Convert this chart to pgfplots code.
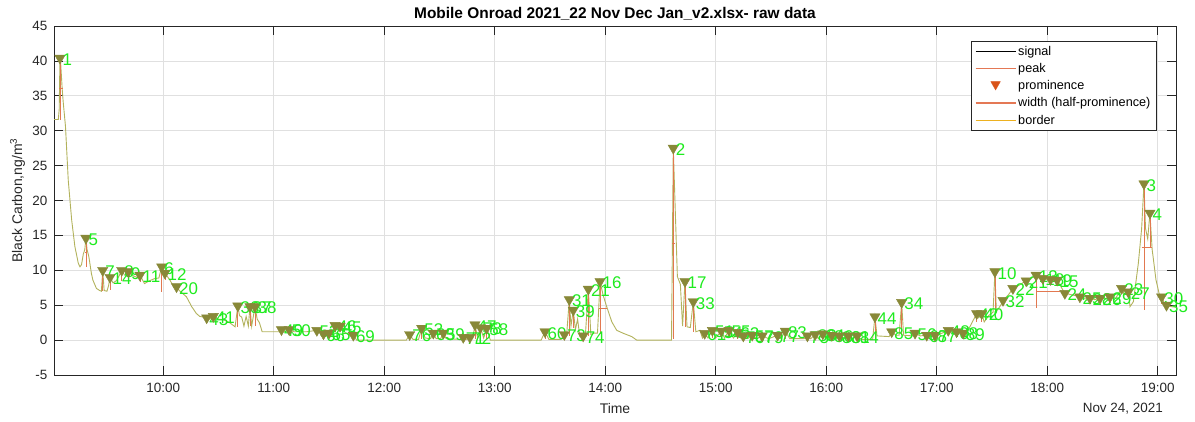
\documentclass[border=0pt]{standalone}
\usepackage{fontspec}
\setmainfont{Liberation Sans}
\usepackage{pgfplots}
\usepackage{pgfplotstable}
\pgfplotsset{compat=1.18}
\definecolor{sig}{RGB}{178,178,92}
\definecolor{tri}{RGB}{136,136,56}
\definecolor{prom}{RGB}{226,120,80}
\definecolor{lgreen}{RGB}{30,235,30}
\definecolor{mlorange}{RGB}{217,83,25}
\definecolor{mlsalmon}{RGB}{228,120,85}
\definecolor{mlyellow}{RGB}{237,177,32}
\definecolor{axgray}{RGB}{38,38,38}
\pgfplotsset{
  lgblack/.style={legend image code/.code={\draw[draw=black, line width=1bp] (0bp,0bp) -- (40bp,0bp);}},
  lgsalmon/.style={legend image code/.code={\draw[draw=mlsalmon, line width=1.3bp] (0bp,0bp) -- (40bp,0bp);}},
  lgyellow/.style={legend image code/.code={\draw[draw=mlyellow, line width=1.3bp] (0bp,0bp) -- (40bp,0bp);}},
  lgmark/.style={legend image code/.code={\path[draw=none] (0bp,0bp) -- (40bp,0bp);
     \path[fill=mlorange, draw=mlorange, line width=0.3bp] (20bp,-4.2bp) -- (15.2bp,4.2bp) -- (24.8bp,4.2bp) -- cycle;}},
}

\pgfplotstableread{
x y
9.011 31.6
9.050 31.6
9.058 33.0
9.065 40.4
9.072 39.5
9.085 36.0
9.095 34.0
9.115 30.6
9.140 22.9
9.171 17.2
9.200 13.4
9.231 11.0
9.246 10.5
9.260 10.8
9.276 12.3
9.290 13.0
9.300 14.6
9.310 13.0
9.327 11.9
9.350 9.5
9.363 8.6
9.395 7.4
9.425 7.1
9.440 7.0
9.452 10.0
9.465 7.1
9.490 7.0
9.505 7.8
9.518 9.0
9.545 8.2
9.575 8.5
9.600 9.2
9.624 10.0
9.650 9.3
9.670 9.4
9.684 9.8
9.730 9.2
9.760 9.0
9.789 9.3
9.830 8.1
9.875 8.5
9.920 8.8
9.960 8.9
9.986 10.5
10.000 9.3
10.015 9.6
10.060 8.6
10.100 7.5
10.120 7.65
10.145 7.1
10.210 6.2
10.257 4.8
10.300 3.8
10.330 3.4
10.393 3.2
10.420 3.0
10.453 3.4
10.500 3.0
10.550 2.9
10.600 2.5
10.650 1.9
10.675 4.9
10.690 3.5
10.710 3.3
10.730 2.0
10.750 3.4
10.770 2.0
10.785 4.8
10.800 2.0
10.830 4.8
10.850 3.0
10.870 2.5
10.895 1.2
11.050 1.2
11.070 1.5
11.100 1.2
11.140 1.5
11.180 1.2
11.300 1.2
11.390 1.4
11.420 1.0
11.450 0.9
11.480 0.8
11.500 1.0
11.530 1.2
11.555 2.1
11.580 1.5
11.600 2.0
11.650 1.0
11.700 0.6
11.720 0.7
11.750 0.0
12.200 0.0
12.230 0.8
12.260 0.1
12.310 0.1
12.339 1.7
12.370 0.3
12.420 0.2
12.444 1.0
12.470 0.2
12.510 0.2
12.535 1.0
12.560 0.2
12.690 0.1
12.715 0.4
12.740 0.1
12.775 0.4
12.800 0.2
12.821 2.2
12.845 0.3
12.870 1.8
12.900 0.3
12.927 1.7
12.960 0.0
13.420 0.0
13.455 1.2
13.490 0.1
13.600 0.1
13.630 0.8
13.650 0.6
13.675 5.8
13.690 2.0
13.711 4.3
13.730 1.5
13.750 3.0
13.770 0.5
13.800 0.6
13.820 0.6
13.847 7.3
13.870 0.8
13.900 1.0
13.930 1.0
13.953 8.4
13.980 6.5
14.013 4.8
14.060 2.6
14.104 1.4
14.164 0.97
14.240 0.5
14.285 0.0
14.600 0.0
14.616 27.5
14.653 9.1
14.680 8.0
14.700 2.0
14.722 8.4
14.740 1.9
14.770 1.8
14.797 5.5
14.820 1.2
14.857 1.4
14.880 0.3
14.900 0.97
14.930 0.3
14.970 1.4
15.000 0.3
15.050 1.3
15.080 0.3
15.120 1.4
15.160 0.3
15.200 1.1
15.230 0.2
15.250 0.6
15.290 0.2
15.330 0.7
15.370 0.2
15.420 0.6
15.480 0.2
15.560 0.7
15.590 0.2
15.630 1.3
15.670 0.2
15.800 0.2
15.830 0.6
15.860 0.2
15.900 0.8
15.930 0.2
15.970 0.9
16.010 0.2
16.050 0.7
16.080 0.2
16.120 0.6
16.160 0.2
16.200 0.6
16.240 0.2
16.280 0.6
16.320 0.1
16.420 0.1
16.441 3.35
16.460 0.6
16.570 0.5
16.593 1.2
16.630 0.7
16.660 0.7
16.683 5.4
16.700 0.7
16.780 0.6
16.804 1.0
16.850 0.6
16.910 0.7
16.950 0.6
16.985 0.7
17.050 1.0
17.105 1.4
17.140 1.1
17.180 1.2
17.210 1.1
17.240 1.0
17.300 1.9
17.362 3.8
17.380 3.2
17.407 3.8
17.430 2.6
17.470 3.5
17.510 4.0
17.527 9.8
17.540 4.1
17.580 5.0
17.600 5.7
17.650 6.5
17.690 7.4
17.750 7.9
17.810 8.5
17.860 8.9
17.900 9.3
17.930 8.8
17.960 8.85
18.000 8.7
18.030 8.7
18.060 8.4
18.090 8.6
18.130 7.5
18.160 6.7
18.220 6.5
18.296 6.2
18.340 5.9
18.387 6.0
18.430 5.8
18.478 6.0
18.520 5.9
18.568 6.2
18.620 6.0
18.674 7.4
18.700 6.5
18.734 6.9
18.750 4.8
18.780 5.5
18.825 11.0
18.855 16.0
18.876 22.4
18.890 16.0
18.910 14.5
18.930 18.2
18.950 13.0
18.985 8.6
19.020 6.2
19.036 6.2
19.060 5.3
19.080 5.0
19.120 4.8
19.166 4.7
}\signal

\pgfplotstableread{
x y p lab
9.065 40.4 8.8 1
9.300 14.6 4.1 5
9.452 10.0 3.0 7
9.518 9.0 1.8 14
9.624 10.0 1.5 8
9.684 9.8 1.0 9
9.789 9.3 1.0 11
9.986 10.5 3.6 6
10.015 9.6 1.0 12
10.120 7.65 0.6 20
10.393 3.2 0.3 43
10.453 3.4 0.5 41
10.675 4.9 3.0 36
10.785 4.8 2.8 37
10.830 4.8 2.8 38
11.070 1.5 0.3 49
11.140 1.5 0.3 50
11.390 1.4 0.3 52
11.450 0.9 0.2 66
11.500 1.0 0.2 65
11.555 2.1 0.9 46
11.600 2.0 0.5 45
11.720 0.7 0.1 69
12.230 0.8 0.8 76
12.339 1.7 1.6 53
12.444 1.0 0.8 63
12.535 1.0 0.8 59
12.715 0.4 0.3 71
12.775 0.4 0.3 72
12.821 2.2 2.0 47
12.870 1.8 1.5 78
12.927 1.7 1.5 58
13.455 1.2 1.1 60
13.630 0.8 0.3 73
13.675 5.8 5.2 31
13.711 4.3 2.5 39
13.800 0.6 0.1 74
13.847 7.3 6.7 21
13.953 8.4 7.5 16
14.616 27.5 27.4 2
14.722 8.4 6.5 17
14.797 5.5 4.3 33
14.900 0.97 0.7 61
14.970 1.4 1.1 51
15.050 1.3 1.0 54
15.120 1.4 1.1 55
15.200 1.1 0.9 62
15.250 0.6 0.4 70
15.330 0.7 0.5 57
15.420 0.6 0.4 79
15.560 0.7 0.5 77
15.630 1.3 1.1 83
15.830 0.6 0.4 75
15.900 0.8 0.6 80
15.970 0.9 0.7 64
16.050 0.7 0.5 86
16.120 0.6 0.4 88
16.200 0.6 0.4 81
16.280 0.6 0.4 84
16.441 3.35 3.2 44
16.593 1.2 0.7 85
16.683 5.4 4.7 34
16.804 1.0 0.4 56
16.910 0.7 0.1 67
16.985 0.7 0.1 87
17.105 1.4 0.3 48
17.180 1.2 0.1 68
17.240 1.0 0.1 89
17.362 3.8 1.2 42
17.407 3.8 1.2 40
17.527 9.8 5.8 10
17.600 5.7 0.5 32
17.690 7.4 0.5 22
17.810 8.5 0.5 21
17.900 9.3 4.7 13
17.960 8.85 0.5 18
18.030 8.7 0.3 19
18.090 8.6 0.5 15
18.160 6.7 0.2 24
18.296 6.2 0.3 25
18.387 6.0 0.2 28
18.478 6.0 0.2 26
18.568 6.2 0.3 29
18.674 7.4 0.6 23
18.734 6.9 0.3 27
18.876 22.4 18.1 3
18.930 18.2 5.0 4
19.036 6.2 1.0 30
19.080 5.0 0.3 35
}\peaks

\pgfplotstableread{
x y
9.058 36.0
9.090 36.0
nan nan
9.290 12.5
9.310 12.5
nan nan
14.608 13.8
14.635 13.8
nan nan
17.900 7.0
18.120 7.0
nan nan
18.855 13.3
18.945 13.3
nan nan
13.940 4.6
14.020 4.6
nan nan
16.675 3.0
16.695 3.0
}\widths

\begin{document}
\begin{tikzpicture}
\begin{axis}[
  name=ax,
  scale only axis, width=1122bp, height=349bp,
  xmin=9.011, xmax=19.166, ymin=-5, ymax=45,
  xtick={10,11,12,13,14,15,16,17,18,19},
  xticklabels={10:00,11:00,12:00,13:00,14:00,15:00,16:00,17:00,18:00,19:00},
  ytick={-5,0,5,10,15,20,25,30,35,40,45},
  yticklabels={-5,0,5,10,15,20,25,30,35,40,45},
  tick align=inside, xtick pos=both, ytick pos=both,
  xticklabel pos=lower, yticklabel pos=left,
  major tick length=9bp,
  grid=major, major grid style={draw=black!12, line width=0.6bp},
  axis line style={draw=axgray, line width=0.7bp},
  tick style={draw=axgray, line width=0.7bp},
  ticklabel style={font=\fontsize{13.5}{15}\selectfont, text=axgray, inner sep=0pt},
  xticklabel shift=8bp, yticklabel shift=6.5bp,
  /pgf/number format/assume math mode=true,
  xlabel={Time},
  xlabel style={font=\fontsize{14}{16}\selectfont, text=axgray, at={(axis description cs:0.5,-0.1089)}, anchor=base, inner sep=0pt},
  ylabel={Black Carbon,ng/m\textsuperscript{3}},
  ylabel style={font=\fontsize{14}{16}\selectfont, text=axgray, at={(axis description cs:-0.0285,0.5)}, anchor=base, inner sep=0pt},
  clip mode=individual,
  legend style={at={(axis description cs:0.9828,0.9579)}, anchor=north east,
    draw=axgray, line width=0.6bp, fill=white,
    font=\fontsize{12.7}{14}\selectfont, row sep=2.6bp,
    inner xsep=4bp, inner ysep=3bp},
  legend cell align=left,
]
\addplot[forget plot, sig, line width=0.9bp] table[x=x,y=y] {\signal};
\addplot[forget plot, prom, line width=0.8bp, unbounded coords=jump] table[x=x,y=y] {\widths};
\addplot[forget plot, only marks, mark=triangle*, mark size=6bp,
  mark options={rotate=180, fill=tri, draw=tri},
  point meta=explicit symbolic,
  nodes near coords, nodes near coords align=horizontal,
  every node near coord/.append style={anchor=west, inner sep=0pt, xshift=2.5bp, yshift=-1.5bp,
     font=\fontsize{17}{17}\selectfont, text=lgreen},
  error bars/.cd, y dir=minus, y explicit, error mark=none,
  error bar style={draw=prom, line width=0.8bp}]
  table[x=x, y=y, y error minus=p, meta=lab] {\peaks};

\addlegendimage{lgblack}
\addlegendentry{signal}
\addlegendimage{lgsalmon}
\addlegendentry{peak}
\addlegendimage{lgmark}
\addlegendentry{prominence}
\addlegendimage{lgsalmon}
\addlegendentry{width (half-prominence)}
\addlegendimage{lgyellow}
\addlegendentry{border}
\end{axis}
\node[anchor=base, font=\bfseries\fontsize{15.5}{17}\selectfont, inner sep=0pt]
  at ([yshift=7.5bp]ax.north) {Mobile Onroad 2021\_22 Nov Dec Jan\_v2.xlsx- raw data};
\node[anchor=base east, font=\fontsize{13.5}{15}\selectfont, text=axgray, inner sep=0pt]
  at ([xshift=-13bp,yshift=-38bp]ax.south east) {Nov 24, 2021};
\pgfresetboundingbox
\path ([shift={(-54bp,-47bp)}]ax.south west) rectangle ([shift={(19bp,26bp)}]ax.north east);
\end{tikzpicture}
\end{document}
